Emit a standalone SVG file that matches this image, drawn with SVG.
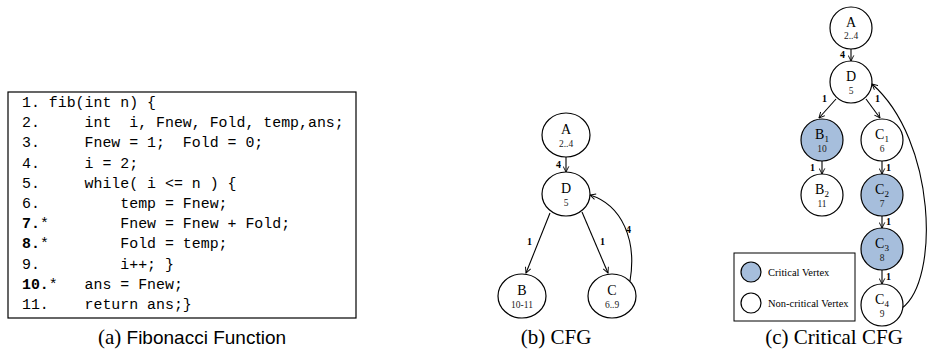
<svg xmlns="http://www.w3.org/2000/svg" width="933" height="356" viewBox="0 0 933 356">
<defs>
<style>
.code{font-family:"Liberation Mono",monospace;font-size:14.9px;fill:#000}
.b{font-weight:bold}
.node{fill:#fff;stroke:#000;stroke-width:1.2}
.crit{fill:#a6bedc;stroke:#000;stroke-width:1.2}
.nl{font-family:"Liberation Serif",serif;font-size:14px;text-anchor:middle;fill:#000}
.ns{font-family:"Liberation Serif",serif;font-size:9.5px;text-anchor:middle;fill:#222}
.sub{font-size:9px}
.el{font-family:"Liberation Serif",serif;font-size:10px;font-weight:bold;fill:#000}
.edge{fill:none;stroke:#000;stroke-width:1.1}
.cap{font-family:"Liberation Serif",serif;font-size:21px;text-anchor:middle;fill:#000}
.sans{font-family:"Liberation Sans",sans-serif;font-size:19px}
.leg{font-family:"Liberation Serif",serif;font-size:10.5px;fill:#000}
</style>
<marker id="arr" viewBox="0 0 10 10" refX="9" refY="5" markerWidth="7" markerHeight="7" orient="auto" markerUnits="userSpaceOnUse">
<path d="M1,1 L9,5 L1,9" fill="none" stroke="#000" stroke-width="1.3"/>
</marker>
</defs>

<g id="code">
<rect x="8" y="92" width="348" height="226" fill="#fff" stroke="#000" stroke-width="1.2"/>
<text class="code" x="22" y="107" xml:space="preserve">1. fib(int n) {</text>
<text class="code" x="22" y="127.2" xml:space="preserve">2.     int  i, Fnew, Fold, temp,ans;</text>
<text class="code" x="22" y="147.4" xml:space="preserve">3.     Fnew = 1;  Fold = 0;</text>
<text class="code" x="22" y="167.6" xml:space="preserve">4.     i = 2;</text>
<text class="code" x="22" y="187.8" xml:space="preserve">5.     while( i &lt;= n ) {</text>
<text class="code" x="22" y="208" xml:space="preserve">6.         temp = Fnew;</text>
<text class="code" x="22" y="228.2" xml:space="preserve"><tspan class="b">7.</tspan>*        Fnew = Fnew + Fold;</text>
<text class="code" x="22" y="248.4" xml:space="preserve"><tspan class="b">8.</tspan>*        Fold = temp;</text>
<text class="code" x="22" y="268.6" xml:space="preserve">9.         i++; }</text>
<text class="code" x="22" y="288.8" xml:space="preserve"><tspan class="b">10.</tspan>*   ans = Fnew;</text>
<text class="code" x="22" y="309" xml:space="preserve">11.    return ans;}</text>
</g>

<g id="connectors">
<!-- CFG b -->
<line class="edge" x1="566" y1="157" x2="566" y2="172" marker-end="url(#arr)"/>
<line class="edge" x1="550" y1="213" x2="526" y2="273" marker-end="url(#arr)"/>
<line class="edge" x1="582" y1="212" x2="608" y2="273" marker-end="url(#arr)"/>
<path class="edge" d="M630,281 C637,240 622,205 590,195" marker-end="url(#arr)"/>
<!-- CFG c -->
<line class="edge" x1="851" y1="49" x2="851" y2="61" marker-end="url(#arr)"/>
<line class="edge" x1="836" y1="99" x2="819" y2="118" marker-end="url(#arr)"/>
<line class="edge" x1="866" y1="99" x2="880" y2="118" marker-end="url(#arr)"/>
<line class="edge" x1="822" y1="161" x2="822" y2="174" marker-end="url(#arr)"/>
<line class="edge" x1="882" y1="161" x2="882" y2="174" marker-end="url(#arr)"/>
<line class="edge" x1="882" y1="216" x2="882" y2="228" marker-end="url(#arr)"/>
<line class="edge" x1="882" y1="270" x2="882" y2="284" marker-end="url(#arr)"/>
<path class="edge" d="M902,308 C940,280 936,140 872,84" marker-end="url(#arr)"/>
</g>

<g id="edge-labels">
<text class="el" x="556" y="168">4</text>
<text class="el" x="527" y="245">1</text>
<text class="el" x="600" y="245">1</text>
<text class="el" x="626" y="233">4</text>
<text class="el" x="840" y="58">4</text>
<text class="el" x="822" y="102">1</text>
<text class="el" x="875" y="102">1</text>
<text class="el" x="810" y="171">1</text>
<text class="el" x="886" y="171">1</text>
<text class="el" x="886" y="225">1</text>
<text class="el" x="886" y="280">1</text>
</g>

<g id="b-A"><ellipse class="node" cx="566" cy="135" rx="24" ry="22"/><text class="nl" x="566" y="134">A</text><text class="ns" x="566" y="147">2..4</text></g>
<g id="b-D"><ellipse class="node" cx="566" cy="194" rx="24" ry="22"/><text class="nl" x="566" y="193">D</text><text class="ns" x="566" y="206">5</text></g>
<g id="b-B"><ellipse class="node" cx="522" cy="296" rx="24" ry="22"/><text class="nl" x="522" y="295">B</text><text class="ns" x="522" y="308">10-11</text></g>
<g id="b-C"><ellipse class="node" cx="612" cy="296" rx="24" ry="22"/><text class="nl" x="612" y="295">C</text><text class="ns" x="612" y="308">6..9</text></g>

<g id="c-A"><circle class="node" cx="851" cy="28" r="21"/><text class="nl" x="851" y="27">A</text><text class="ns" x="851" y="39">2..4</text></g>
<g id="c-D"><circle class="node" cx="851" cy="82" r="21"/><text class="nl" x="851" y="81">D</text><text class="ns" x="851" y="94">5</text></g>
<g id="c-B1"><circle class="crit" cx="822" cy="140" r="21"/><text class="nl" x="822" y="139">B<tspan class="sub" dy="3">1</tspan></text><text class="ns" x="822" y="152">10</text></g>
<g id="c-C1"><circle class="node" cx="882" cy="140" r="21"/><text class="nl" x="882" y="139">C<tspan class="sub" dy="3">1</tspan></text><text class="ns" x="882" y="152">6</text></g>
<g id="c-B2"><circle class="node" cx="822" cy="195" r="21"/><text class="nl" x="822" y="194">B<tspan class="sub" dy="3">2</tspan></text><text class="ns" x="822" y="207">11</text></g>
<g id="c-C2"><circle class="crit" cx="882" cy="195" r="21"/><text class="nl" x="882" y="194">C<tspan class="sub" dy="3">2</tspan></text><text class="ns" x="882" y="207">7</text></g>
<g id="c-C3"><circle class="crit" cx="882" cy="249" r="21"/><text class="nl" x="882" y="248">C<tspan class="sub" dy="3">3</tspan></text><text class="ns" x="882" y="261">8</text></g>
<g id="c-C4"><circle class="node" cx="882" cy="305" r="21"/><text class="nl" x="882" y="304">C<tspan class="sub" dy="3">4</tspan></text><text class="ns" x="882" y="317">9</text></g>

<g id="legend">
<rect x="734" y="253" width="121" height="68" fill="#fff" stroke="#000" stroke-width="1"/>
<circle class="crit" cx="751" cy="272" r="10"/>
<text class="leg" x="768" y="276">Critical Vertex</text>
<circle class="node" cx="751" cy="303" r="10"/>
<text class="leg" x="768" y="307">Non-critical Vertex</text>
</g>

<g id="captions">
<text class="cap" x="192" y="344">(a) <tspan class="sans">Fibonacci Function</tspan></text>
<text class="cap" x="556" y="344">(b) CFG</text>
<text class="cap" x="834" y="344">(c) Critical CFG</text>
</g>
</svg>
